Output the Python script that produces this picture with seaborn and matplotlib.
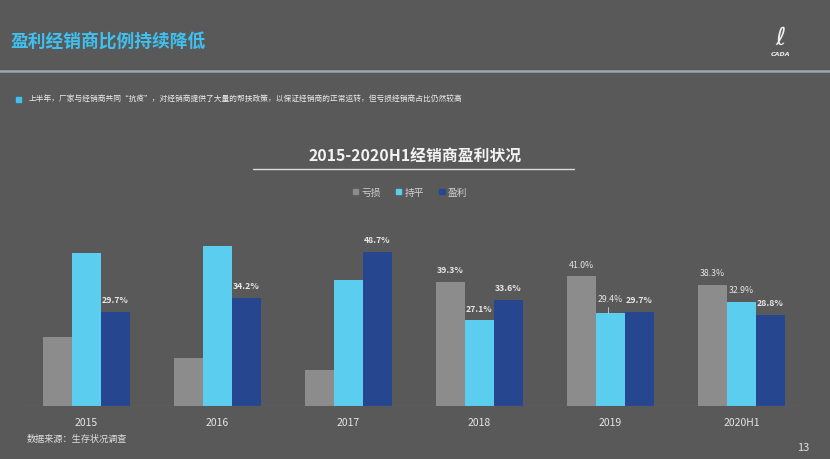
import matplotlib
matplotlib.use("Agg")
import matplotlib.pyplot as plt
import pandas as pd
import seaborn as sns
from matplotlib.patches import Rectangle
from matplotlib.lines import Line2D

# ---- Data ----
years = ["2015", "2016", "2017", "2018", "2019", "2020H1"]
series = ["亏损", "持平", "盈利"]
loss = [21.8, 15.2, 11.4, 39.3, 41.0, 38.3]
even = [48.4, 50.6, 39.8, 27.1, 29.4, 32.9]
profit = [29.7, 34.2, 48.7, 33.6, 29.7, 28.8]
# which bars carry a value label, and whether it is bold
show_loss = [False, False, False, True, True, True]
show_even = [False, False, False, True, True, True]
show_profit = [True, True, True, True, True, True]
bold_loss = [False, False, False, True, False, False]
bold_even = [False, False, False, True, False, False]
bold_profit = [True, True, True, True, True, True]

BG = "#595959"
colors = ["#8c8c8c", "#5bcdef", "#26468f"]
CYAN = "#3ec1ef"
TXT = "#e6e6e6"

df = pd.DataFrame({
    "year": years * 3,
    "kind": [series[0]] * 6 + [series[1]] * 6 + [series[2]] * 6,
    "value": loss + even + profit,
})

sns.set_theme(style="white")
plt.rcParams["font.family"] = ["Noto Sans CJK SC", "DejaVu Sans"]

fig = plt.figure(figsize=(8.3, 4.6), dpi=100, facecolor=BG)
ax = fig.add_axes([21 / 830, 53 / 460, 786 / 830, 190 / 460])
ax.set_facecolor(BG)

sns.barplot(data=df, x="year", y="value", hue="kind", hue_order=series,
            palette=colors, width=0.664, gap=0, saturation=1,
            edgecolor="none", legend=False, ax=ax)

ax.set_xlim(-0.5, 5.5)
ax.set_ylim(0, 60)
for s in ax.spines.values():
    s.set_visible(False)
ax.axhline(0, color="#8a8a8a", lw=0.8)
ax.set_yticks([])
ax.set_xlabel("")
ax.set_ylabel("")
ax.tick_params(axis="x", length=0, colors=TXT, labelsize=7.5, pad=8)

# ---- Value labels ----
shows = [show_loss, show_even, show_profit]
bolds = [bold_loss, bold_even, bold_profit]
for k, cont in enumerate(ax.containers):
    for i, bar in enumerate(cont):
        if not shows[k][i]:
            continue
        x = bar.get_x() + bar.get_width() / 2
        h = bar.get_height()
        dy = 3.8
        if years[i] == "2019" and k == 1:
            dy = 4.6
            ax.plot([x - 0.02, x - 0.02], [h, h + 2.0], color="#cfcfcf", lw=0.6)
        ax.text(x, h + dy, f"{h:.1f}%", ha="center", va="center",
                color=TXT, fontsize=6.3,
                fontweight="bold" if bolds[k][i] else "normal")

# ---- Legend ----
handles = [Rectangle((0, 0), 1, 1, color=c) for c in colors]
leg = ax.legend(handles, series, loc="center", ncol=3, frameon=False,
                bbox_to_anchor=(410 / 830, 1 - 193 / 460),
                bbox_transform=fig.transFigure, fontsize=7,
                handlelength=0.55, handleheight=0.55, handletextpad=0.3,
                columnspacing=1.6)
for t in leg.get_texts():
    t.set_color("#d0d0d0")

# ---- Slide decorations ----
fig.text(10 / 830, 1 - 43 / 460, "盈利经销商比例持续降低", color=CYAN,
         fontsize=12.8, fontweight="heavy", va="center", ha="left")
fig.add_artist(Line2D([0, 1], [1 - 72 / 460] * 2, transform=fig.transFigure,
                      color="#9aa6b2", lw=1.8))
fig.add_artist(Rectangle((16 / 830, 1 - 103 / 460), 5 / 830, 5 / 460,
                         transform=fig.transFigure, color=CYAN))
fig.text(29 / 830, 1 - 100 / 460,
         "上半年，厂家与经销商共同“抗疫”，对经销商提供了大量的帮扶政策，以保证经销商的正常运转，但亏损经销商占比仍然较高",
         color="#eeeeee", fontsize=5.55, va="center", ha="left")
fig.text(415 / 830, 1 - 157 / 460, "2015-2020H1经销商盈利状况", color="#f2f2f2",
         fontsize=11.4, fontweight="bold", va="center", ha="center")
fig.add_artist(Line2D([253 / 830, 574 / 830], [1 - 170 / 460] * 2,
                      transform=fig.transFigure, color="#dcdcdc", lw=1.0))
fig.text(27 / 830, 1 - 439 / 460, "数据来源：生存状况调查", color="#e0e0e0",
         fontsize=6.6, va="center", ha="left")
fig.text(803 / 830, 1 - 448 / 460, "13", color="#e0e0e0",
         fontsize=8, va="center", ha="center")
fig.text(781 / 830, 1 - 38 / 460, "ℓ", color="#f0f0f0", fontsize=18,
         fontstyle="italic", va="center", ha="center", family="DejaVu Sans")
fig.text(781 / 830, 1 - 55 / 460, "CADA", color="#f0f0f0", fontsize=4.5,
         fontweight="bold", fontstyle="italic", va="center", ha="center",
         family="DejaVu Sans")

fig.savefig("out.png", dpi=100, facecolor=BG)
